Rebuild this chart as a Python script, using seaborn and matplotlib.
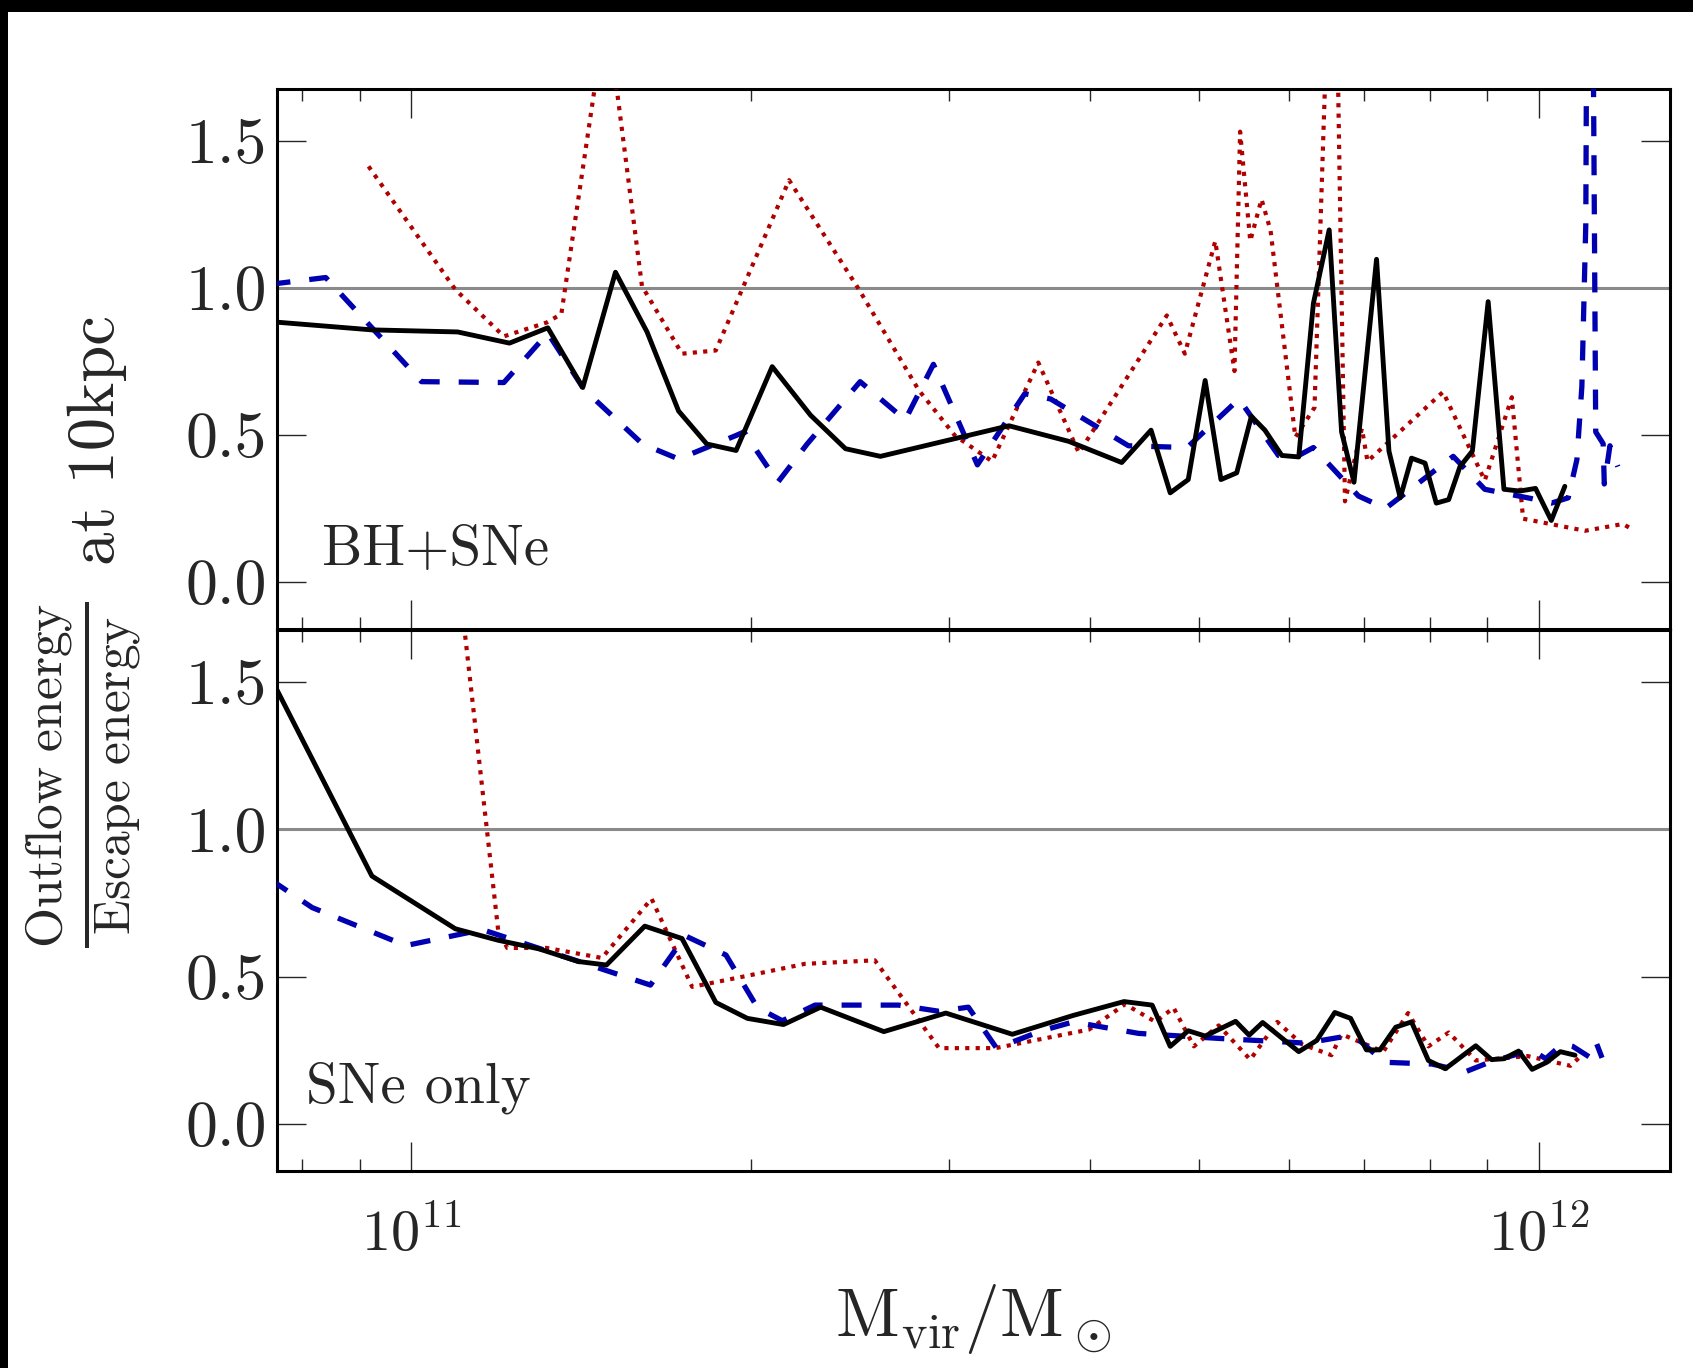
import numpy as np
import matplotlib
matplotlib.use("Agg")
import matplotlib.pyplot as plt
from matplotlib.patches import Rectangle
from matplotlib.ticker import NullFormatter
import seaborn as sns

sns.set_style("ticks")
plt.rcParams["font.family"] = ["serif"]
plt.rcParams["font.serif"] = ["cmr10"]
plt.rcParams["mathtext.fontset"] = "cm"
plt.rcParams["axes.formatter.use_mathtext"] = True

# ---------------- data (x given as log10 Mvir/Msun) ----------------
# Top panel: BH+SNe
bh_black_logm = [10.875, 10.965, 11.041, 11.087, 11.121, 11.152, 11.181, 11.209, 11.237, 11.262,
                 11.288, 11.320, 11.354, 11.385, 11.416, 11.530, 11.583, 11.630, 11.656, 11.673,
                 11.689, 11.704, 11.718, 11.732, 11.745, 11.757, 11.772, 11.787, 11.800, 11.814,
                 11.825, 11.836, 11.856, 11.867, 11.877, 11.887, 11.899, 11.909, 11.920, 11.930,
                 11.941, 11.955, 11.969, 11.983, 11.997, 12.011, 12.023]
bh_black_val = [0.885, 0.857, 0.850, 0.812, 0.864, 0.661, 1.053, 0.850, 0.581, 0.469,
                0.447, 0.732, 0.567, 0.453, 0.427, 0.531, 0.478, 0.406, 0.516, 0.303,
                0.348, 0.685, 0.348, 0.371, 0.563, 0.516, 0.430, 0.425, 0.947, 1.197,
                0.510, 0.339, 1.097, 0.445, 0.286, 0.421, 0.404, 0.268, 0.280, 0.392,
                0.445, 0.953, 0.315, 0.309, 0.318, 0.209, 0.325]

bh_blue_logm = [10.875, 10.924, 11.009, 11.082, 11.121, 11.153, 11.205, 11.237, 11.288, 11.295,
                11.325, 11.351, 11.398, 11.438, 11.463, 11.502, 11.544, 11.567, 11.636, 11.688,
                11.734, 11.769, 11.787, 11.800, 11.840, 11.864, 11.924, 11.952, 11.994, 12.011,
                12.026, 12.0337, 12.0381, 12.0416, 12.0446, 12.0504, 12.057, 12.058, 12.063, 12.070]
bh_blue_val = [1.012, 1.035, 0.681, 0.678, 0.846, 0.655, 0.469, 0.418, 0.498, 0.510,
               0.339, 0.469, 0.681, 0.551, 0.740, 0.398, 0.640, 0.622, 0.463, 0.457,
               0.622, 0.430, 0.430, 0.457, 0.292, 0.250, 0.427, 0.315, 0.283, 0.268,
               0.286, 0.416, 0.664, 1.218, 4.000, 0.510, 0.470, 0.333, 0.463, 0.392]

bh_red_logm = [10.962, 11.039, 11.082, 11.120, 11.133, 11.173, 11.2045, 11.240, 11.270, 11.335,
               11.397, 11.450, 11.482, 11.515, 11.556, 11.592, 11.670, 11.686, 11.713, 11.730,
               11.735, 11.744, 11.754, 11.762, 11.784, 11.801, 11.818, 11.828, 11.843, 11.848,
               11.915, 11.952, 11.976, 11.986, 12.041, 12.0745, 12.080]
bh_red_val = [1.413, 0.994, 0.835, 0.882, 0.911, 1.950, 1.006, 0.776, 0.787, 1.366,
              0.994, 0.652, 0.498, 0.410, 0.746, 0.439, 0.906, 0.776, 1.159, 0.717,
              1.531, 1.159, 1.301, 1.195, 0.492, 0.593, 2.600, 0.274, 0.522, 0.410,
              0.646, 0.345, 0.628, 0.215, 0.174, 0.197, 0.185]

# Bottom panel: SNe only
sn_black_logm = [10.875, 10.965, 11.039, 11.077, 11.113, 11.148, 11.173, 11.207, 11.240, 11.270,
                 11.298, 11.330, 11.363, 11.419, 11.474, 11.533, 11.587, 11.632, 11.657, 11.673,
                 11.689, 11.704, 11.731, 11.743, 11.755, 11.787, 11.803, 11.819, 11.833, 11.847,
                 11.859, 11.873, 11.887, 11.902, 11.917, 11.944, 11.958, 11.969, 11.982, 11.994,
                 12.007, 12.019, 12.032]
sn_black_val = [1.516, 0.841, 0.662, 0.623, 0.594, 0.551, 0.539, 0.671, 0.629, 0.412,
                0.358, 0.337, 0.396, 0.313, 0.376, 0.304, 0.368, 0.415, 0.403, 0.263,
                0.316, 0.298, 0.348, 0.301, 0.344, 0.245, 0.283, 0.378, 0.358, 0.251,
                0.251, 0.328, 0.346, 0.215, 0.187, 0.265, 0.218, 0.221, 0.247, 0.185,
                0.209, 0.245, 0.233]

sn_blue_logm = [10.875, 10.912, 10.995, 11.063, 11.212, 11.243, 11.279, 11.307, 11.329, 11.358,
                11.432, 11.468, 11.494, 11.519, 11.559, 11.587, 11.645, 11.716, 11.793, 11.830,
                11.840, 11.863, 11.905, 11.935, 11.956, 11.994, 12.006, 12.021, 12.030, 12.046,
                12.051, 12.056]
sn_blue_val = [0.829, 0.734, 0.605, 0.659, 0.471, 0.638, 0.573, 0.394, 0.350, 0.403,
               0.403, 0.382, 0.396, 0.257, 0.316, 0.346, 0.307, 0.290, 0.274, 0.298,
               0.286, 0.209, 0.203, 0.177, 0.209, 0.251, 0.221, 0.272, 0.263, 0.224,
               0.274, 0.224]

sn_red_logm = [11.023, 11.077, 11.085, 11.120, 11.169, 11.213, 11.249, 11.296, 11.349, 11.411,
               11.468, 11.518, 11.601, 11.633, 11.660, 11.676, 11.694, 11.716, 11.744, 11.768,
               11.790, 11.816, 11.825, 11.862, 11.884, 11.902, 11.920, 11.944, 11.990, 12.028,
               12.038]
sn_red_val = [2.500, 0.656, 0.597, 0.597, 0.563, 0.764, 0.465, 0.501, 0.543, 0.555,
              0.257, 0.257, 0.320, 0.406, 0.346, 0.394, 0.263, 0.334, 0.218, 0.346,
              0.270, 0.233, 0.304, 0.245, 0.376, 0.263, 0.310, 0.215, 0.230, 0.197,
              0.233]

panel_labels = ["BH+SNe", "SNe only"]
ytick_vals = [0.0, 0.5, 1.0, 1.5]

# ---------------- style ----------------
BLACK = "#000000"
BLUE = "#0000b0"
RED = "#b00000"
GREY = "#8a8a8a"

W, H = 1693, 1368
fig = plt.figure(figsize=(W / 100, H / 100), dpi=100)
fig.patch.set_facecolor("white")

left, right = 277 / W, 1670 / W
ax_top = fig.add_axes([left, 1 - 629 / H, right - left, (629 - 89) / H])
ax_bot = fig.add_axes([left, 1 - 1171 / H, right - left, (1171 - 630) / H])

series = [
    (ax_top, bh_black_logm, bh_black_val, bh_blue_logm, bh_blue_val, bh_red_logm, bh_red_val),
    (ax_bot, sn_black_logm, sn_black_val, sn_blue_logm, sn_blue_val, sn_red_logm, sn_red_val),
]

for i, (ax, kx, ky, bx, by, rx, ry) in enumerate(series):
    ax.set_xscale("log")
    ax.axhline(1.0, color=GREY, lw=2.2, zorder=1)
    sns.lineplot(x=10 ** np.array(rx), y=ry, ax=ax, color=RED, lw=3.0,
                 linestyle=(0, (1.0, 1.5)), sort=False, estimator=None, zorder=3)
    sns.lineplot(x=10 ** np.array(bx), y=by, ax=ax, color=BLUE, lw=3.8,
                 linestyle=(0, (3.8, 3.6)), sort=False, estimator=None, zorder=4)
    sns.lineplot(x=10 ** np.array(kx), y=ky, ax=ax, color=BLACK, lw=3.5,
                 sort=False, estimator=None, zorder=5)
    ax.set_xlim(7.6e10, 1.307e12)
    ax.set_ylim(-0.16, 1.676)
    ax.set_yticks(ytick_vals)
    ax.set_yticklabels(["%.1f" % v for v in ytick_vals])
    ax.xaxis.set_minor_formatter(NullFormatter())
    ax.tick_params(axis="both", which="both", direction="in", top=True, right=True)
    ax.tick_params(axis="x", which="major", length=21, width=1.0, labelsize=42, pad=26)
    ax.tick_params(axis="y", which="major", length=21, width=1.0, labelsize=46, pad=7)
    ax.tick_params(axis="x", which="minor", length=8.5, width=1.0)
    for sp in ax.spines.values():
        sp.set_linewidth(2.2)
        sp.set_color("black")
    ax.set_xlabel("")
    ax.set_ylabel("")
    ax.text(0.032 if i == 0 else 0.0205, 0.118 if i == 0 else 0.126, panel_labels[i],
            transform=ax.transAxes, fontsize=41, ha="left", va="baseline")

ax_top.tick_params(axis="x", which="both", labelbottom=False)
ax_bot.set_xlabel(r"$\mathrm{M_{vir}/M_\odot}$", fontsize=50, labelpad=14)

# y label: fraction plus "at 10kpc"
fig.text(84 / W, 1 - 775 / H, r"$\frac{\mathrm{Outflow\ energy}}{\mathrm{Escape\ energy}}$",
         rotation=90, fontsize=53, ha="center", va="center")
fig.text(97 / W, 1 - 440 / H, "at 10kpc", rotation=90, fontsize=48,
         ha="center", va="center")

# black border bands present in the reference image
fig.patches.append(Rectangle((0, 1 - 12 / H), 1, 12 / H, transform=fig.transFigure,
                             facecolor="black", edgecolor="none", zorder=10))
fig.patches.append(Rectangle((0, 0), 8 / W, 1, transform=fig.transFigure,
                             facecolor="black", edgecolor="none", zorder=10))

fig.savefig("out.png", dpi=100, facecolor=fig.get_facecolor())
